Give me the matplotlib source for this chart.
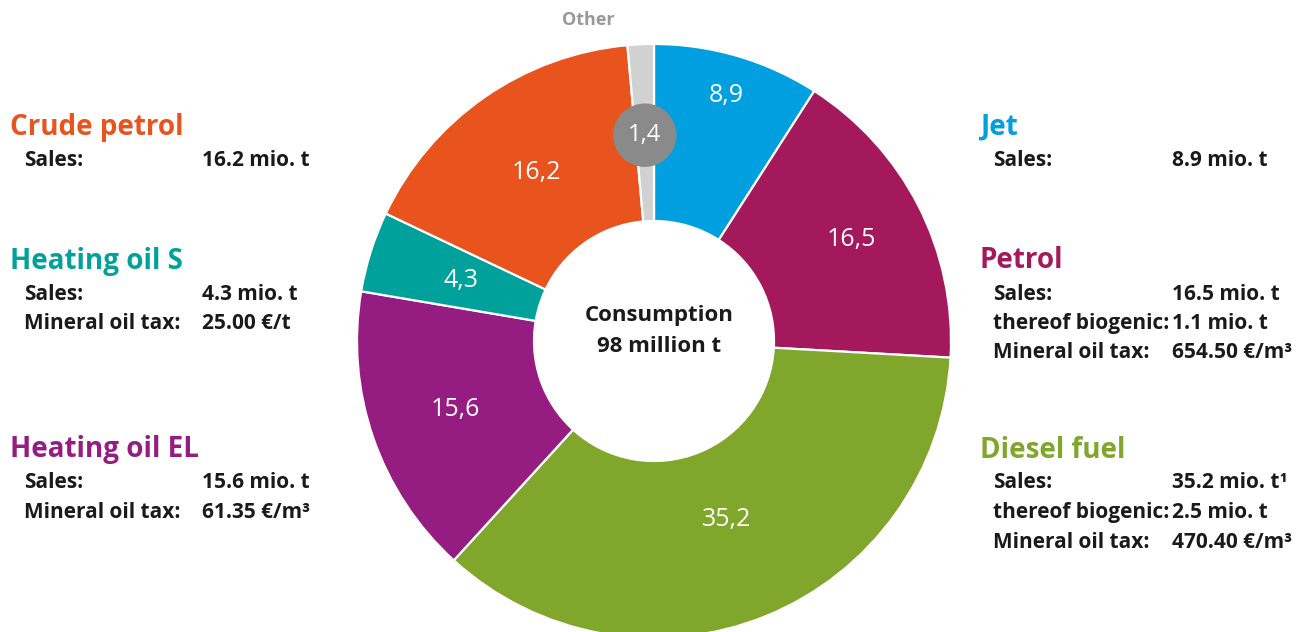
import matplotlib.pyplot as plt
import numpy as np

plt.rcParams['font.family'] = ['Open Sans', 'Lato', 'DejaVu Sans']

# sales in million tonnes, clockwise from the top
fuels = ["Jet", "Petrol", "Diesel fuel", "Heating oil EL", "Heating oil S", "Crude petrol", "Other"]
sales = [8.9, 16.5, 35.2, 15.6, 4.3, 16.2, 1.4]
colors = ["#009fe0", "#a3195b", "#80a72b", "#951c81", "#00a19a", "#e8531e", "#d1d1d1"]

biogenic = {"Petrol": 1.1, "Diesel fuel": 2.5}
mineral_oil_tax = {"Petrol": "654.50 €/m³", "Diesel fuel": "470.40 €/m³",
                   "Heating oil EL": "61.35 €/m³", "Heating oil S": "25.00 €/t"}
footnote = {"Diesel fuel": "¹"}

W, H = 1298, 632
fig = plt.figure(figsize=(W / 100, H / 100), dpi=100)
ax = fig.add_axes([0, 0, 1, 1])

cx, cy = 654, H - 341
r_out, r_in = 297, 120
wedges, _ = ax.pie(sales, colors=colors, startangle=90, counterclock=False,
                   center=(cx, cy), radius=r_out,
                   wedgeprops=dict(width=r_out - r_in, edgecolor="white", linewidth=1.6))
ax.set_xlim(0, W)
ax.set_ylim(0, H)
ax.axis("off")

# value labels inside the ring
label_r = [256, 222, 193, 210, 202, 205, 206]
for w, v, r, name in zip(wedges, sales, label_r, fuels):
    mid = np.deg2rad((w.theta1 + w.theta2) / 2)
    x, y = cx + r * np.cos(mid), cy + r * np.sin(mid)
    txt = f"{v:.1f}".replace(".", ",")
    if name == "Other":
        ax.add_patch(plt.Circle((x, y), 31, color="#8a8a8a", zorder=5))
        ax.text(x, y, txt, color="white", fontsize=17, ha="center", va="center", zorder=6)
        ax.text(588, H - 20, name, color="#999999", fontsize=13, fontweight="bold",
                ha="center", va="center")
    else:
        ax.text(x, y, txt, color="white", fontsize=18, ha="center", va="center")

total = round(sum(sales))
ax.text(cx + 5, H - 315, "Consumption", fontsize=16, fontweight="bold", color="#1a1a1a",
        ha="center", va="center")
ax.text(cx + 5, H - 347, f"{total} million t", fontsize=16, fontweight="bold", color="#1a1a1a",
        ha="center", va="center")

# side legend blocks: (title x, row x, value x, title y)
blocks = {
    "Crude petrol": (10, 24, 202, 127),
    "Heating oil S": (10, 24, 202, 261),
    "Heating oil EL": (10, 24, 202, 450),
    "Jet": (980, 993, 1172, 127),
    "Petrol": (980, 993, 1172, 261),
    "Diesel fuel": (980, 993, 1172, 450),
}
for name, (tx, rx, vx, ty) in blocks.items():
    i = fuels.index(name)
    ax.text(tx, H - ty, name, color=colors[i], fontsize=20, fontweight="bold",
            ha="left", va="center")
    rows = [("Sales:", f"{sales[i]} mio. t" + footnote.get(name, ""))]
    if name in biogenic:
        rows.append(("thereof biogenic:", f"{biogenic[name]} mio. t"))
    if name in mineral_oil_tax:
        rows.append(("Mineral oil tax:", mineral_oil_tax[name]))
    for k, (lab, val) in enumerate(rows):
        y = H - (ty + 33 + 29.5 * k)
        ax.text(rx, y, lab, fontsize=15, fontweight="bold", color="#1a1a1a", ha="left", va="center")
        ax.text(vx, y, val, fontsize=15, fontweight="bold", color="#1a1a1a", ha="left", va="center")

fig.savefig("out.png", dpi=100)
